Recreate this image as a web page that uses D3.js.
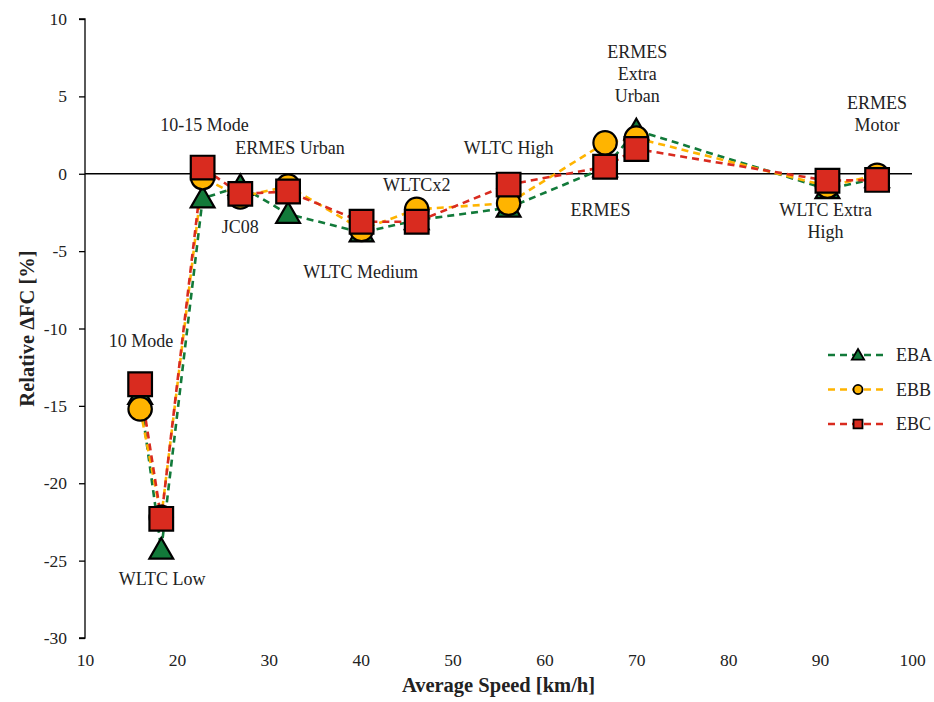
<!DOCTYPE html>
<html>
<head>
<meta charset="utf-8">
<script src="https://cdn.jsdelivr.net/npm/d3@7"></script>
<style>
  body { margin: 0; background: #fff; }
  svg text { font-family: 'Liberation Serif', 'DejaVu Serif', serif !important; fill: #222; }
  .tick text { font-size: 17.5px; }
  .axis_title { font-size: 20.5px; font-weight: bold; }
  .pt_label { font-size: 18px; }
  .legend_text { font-size: 18px; }
</style>
</head>
<body>
<div id="graphic"></div>
<script>
// average speed of each test cycle [km/h]
const speeds = [16.0, 18.3, 22.8, 26.9, 32.1, 40.1, 46.1, 56.1, 66.6, 70.0, 90.8, 96.2];
const seriesNames = ['EBA', 'EBB', 'EBC'];
const ebaValues = [-14.3, -24.3, -1.6, -0.8, -2.6, -3.8, -3.0, -2.2, 0.4, 2.8, -1.0, -0.3];
const ebbValues = [-15.2, -22.2, -0.25, -1.5, -0.8, -3.6, -2.3, -1.9, 2.0, 2.3, -0.8, -0.1];
const ebcValues = [-13.6, -22.3, 0.4, -1.3, -1.15, -3.1, -3.1, -0.7, 0.45, 1.6, -0.45, -0.4];

const xTicks = [10, 20, 30, 40, 50, 60, 70, 80, 90, 100];
const yTicks = [10, 5, 0, -5, -10, -15, -20, -25, -30];

// annotation text, anchored in data units
const cycleLabels = [
  { lines: ['10 Mode'], x: 16.1, y: -10.8 },
  { lines: ['WLTC Low'], x: 18.4, y: -26.2 },
  { lines: ['10-15 Mode'], x: 23.0, y: 3.2 },
  { lines: ['ERMES Urban'], x: 32.3, y: 1.7 },
  { lines: ['JC08'], x: 26.9, y: -3.4 },
  { lines: ['WLTC Medium'], x: 40.0, y: -6.3 },
  { lines: ['WLTCx2'], x: 46.1, y: -0.7 },
  { lines: ['WLTC High'], x: 56.1, y: 1.7 },
  { lines: ['ERMES'], x: 66.1, y: -2.3 },
  { lines: ['ERMES', 'Extra', 'Urban'], x: 70.1, y: 7.9 },
  { lines: ['ERMES', 'Motor'], x: 96.2, y: 4.6 },
  { lines: ['WLTC Extra', 'High'], x: 90.6, y: -2.3 }
];

const colors = { EBA: '#127a3a', EBB: '#ffb400', EBC: '#d92b1f' };
const shapes = { EBA: d3.symbolTriangle, EBB: d3.symbolCircle, EBC: d3.symbolSquare };
const sizes = { EBA: 245, EBB: 430, EBC: 560 };
const fontFamily = "'Liberation Serif', 'DejaVu Serif', serif";

const margin = { left: 85, right: 22, top: 19, bottom: 64 };
const width = 934, height = 702;

const svg = d3.select('#graphic').append('svg')
  .attr('width', width)
  .attr('height', height)
  .attr('font-family', fontFamily);

const x = d3.scaleLinear().domain([10, 100]).range([margin.left, width - margin.right]);
const y = d3.scaleLinear().domain([-30, 10]).range([height - margin.bottom, margin.top]);

// y axis
svg.append('g')
  .attr('transform', 'translate(' + x(10) + ',0)')
  .call(d3.axisLeft(y).tickValues(yTicks).tickSize(6).tickPadding(12).tickFormat(d => String(d)))
  .attr('font-family', fontFamily)
  .call(g => g.selectAll('path, line').attr('stroke', '#000').attr('stroke-width', 1.3))
  .call(g => g.select('.domain').attr('d', 'M-6,' + y(10) + 'H0V' + y(-30) + 'H-6'));

// x axis labels sit low; axis line crosses at zero
svg.append('g')
  .attr('transform', 'translate(0,' + (y(-30) + 8) + ')')
  .call(d3.axisBottom(x).tickValues(xTicks).tickSize(0).tickPadding(8).tickFormat(d => String(d)))
  .attr('font-family', fontFamily)
  .call(g => g.select('.domain').remove());

svg.append('line')
  .attr('x1', x(10)).attr('x2', x(100))
  .attr('y1', y(0)).attr('y2', y(0))
  .attr('stroke', '#000').attr('stroke-width', 1.3);

svg.append('text')
  .attr('class', 'axis_title')
  .attr('x', (x(10) + x(100)) / 2)
  .attr('y', height - 10)
  .attr('text-anchor', 'middle')
  .text('Average Speed [km/h]');

svg.append('text')
  .attr('class', 'axis_title')
  .attr('transform', 'translate(34,' + y(-10) + ') rotate(-90)')
  .attr('text-anchor', 'middle')
  .text('Relative ΔFC [%]');

const series = [
  { name: 'EBA', values: ebaValues },
  { name: 'EBB', values: ebbValues },
  { name: 'EBC', values: ebcValues }
];

const line = d3.line()
  .x((d, i) => x(speeds[i]))
  .y(d => y(d));

series.forEach(s => {
  svg.append('path')
    .attr('d', line(s.values))
    .attr('fill', 'none')
    .attr('stroke', colors[s.name])
    .attr('stroke-width', 2.6)
    .attr('stroke-dasharray', '7,5');
});

series.forEach(s => {
  svg.selectAll('.pt_' + s.name)
    .data(s.values)
    .enter().append('path')
    .attr('class', 'pt_' + s.name)
    .attr('transform', (d, i) => 'translate(' + x(speeds[i]) + ',' + (y(d) + (s.name === 'EBA' ? 2 : 0)) + ')')
    .attr('d', d3.symbol().type(shapes[s.name]).size(sizes[s.name]))
    .attr('fill', colors[s.name])
    .attr('stroke', '#000')
    .attr('stroke-width', 2.2);
});

// cycle labels
cycleLabels.forEach(l => {
  const t = svg.append('text')
    .attr('class', 'pt_label')
    .attr('text-anchor', 'middle')
    .attr('x', x(l.x))
    .attr('y', y(l.y));
  l.lines.forEach((ln, i) => {
    t.append('tspan')
      .attr('x', x(l.x))
      .attr('dy', i === 0 ? '0.35em' : 22)
      .text(ln);
  });
});

// legend
const legend = svg.selectAll('.legend')
  .data(seriesNames)
  .enter().append('g')
  .attr('class', 'legend')
  .attr('transform', (d, i) => 'translate(828,' + (355 + i * 34.5) + ')');

legend.append('line')
  .attr('x1', 0).attr('x2', 60)
  .attr('stroke', d => colors[d])
  .attr('stroke-width', 2.6)
  .attr('stroke-dasharray', '7,5');

legend.append('path')
  .attr('transform', d => 'translate(30,' + (d === 'EBA' ? 1 : 0) + ')')
  .attr('d', d => d3.symbol().type(shapes[d]).size(d === 'EBC' ? 80 : 65)())
  .attr('fill', d => colors[d])
  .attr('stroke', '#000')
  .attr('stroke-width', 1.8);

legend.append('text')
  .attr('class', 'legend_text')
  .attr('x', 68)
  .attr('dy', '0.35em')
  .text(d => d);
</script>
</body>
</html>
